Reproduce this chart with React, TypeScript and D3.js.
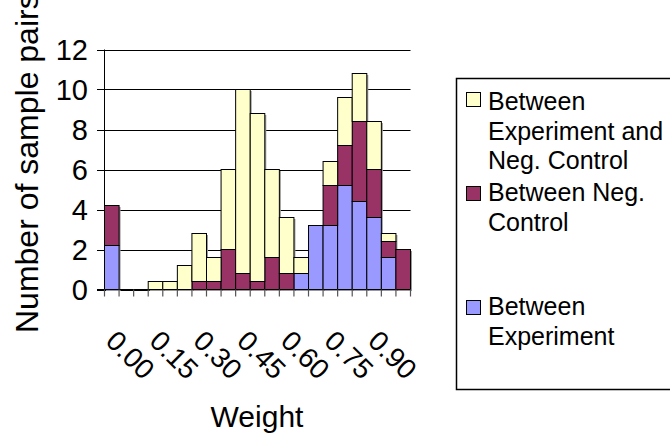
import React from 'react';
import * as d3 from 'd3';

// bins of weight, 0.00 .. 1.00 step 0.05
const bins = ['0.00', '0.05', '0.10', '0.15', '0.20', '0.25', '0.30', '0.35', '0.40', '0.45', '0.50',
  '0.55', '0.60', '0.65', '0.70', '0.75', '0.80', '0.85', '0.90', '0.95', '1.00'];
const betweenExperiment = [2.2, 0, 0, 0, 0, 0, 0, 0, 0, 0, 0, 0, 0, 0.8, 3.2, 3.2, 5.2, 4.4, 3.6, 1.6, 0];
const betweenNegControl = [2.0, 0, 0, 0, 0, 0, 0.4, 0.4, 2.0, 0.8, 0.4, 1.6, 0.8, 0, 0, 2.0, 2.0, 4.0, 2.4, 0.8, 2.0];
const betweenExpAndNeg = [0, 0, 0, 0.4, 0.4, 1.2, 2.4, 1.2, 4.0, 9.2, 8.4, 4.4, 2.8, 0.8, 0, 1.2, 2.4, 2.4, 2.4, 0.4, 0];
const xTickLabels = ['0.00', '0.15', '0.30', '0.45', '0.60', '0.75', '0.90'];
const yTicks = [0, 2, 4, 6, 8, 10, 12];

const seriesKeys = ['exp', 'neg', 'expNeg'];
const colors: Record<string, string> = { exp: '#9999FF', neg: '#993366', expNeg: '#FFFFCC' };

const font = '"Liberation Sans", Arial, sans-serif';

export default function App() {
  const left = 104.5, right = 410.5, top = 49.5, bottom = 289.5;

  const x = d3.scaleBand().domain(bins).range([left, right]).padding(0);
  const y = d3.scaleLinear().domain([0, 12]).range([bottom, top]);

  const rows = bins.map((b, i) => ({
    bin: b, exp: betweenExperiment[i], neg: betweenNegControl[i], expNeg: betweenExpAndNeg[i],
  }));
  const stacked = d3.stack<any>().keys(seriesKeys)(rows);
  const totals = rows.map(r => r.exp + r.neg + r.expNeg);
  const bw = x.bandwidth();

  const legend = [
    { key: 'expNeg', swatchY: 92, lines: ['Between', 'Experiment and', 'Neg. Control'], baseline: 110 },
    { key: 'neg', swatchY: 186, lines: ['Between Neg.', 'Control'], baseline: 201 },
    { key: 'exp', swatchY: 300, lines: ['Between', 'Experiment'], baseline: 315 },
  ];

  return (
    <svg width={670} height={437} style={{ position: 'absolute', left: 0, top: 0, background: 'white' }}
      fontFamily={font}>
      {/* gridlines */}
      {yTicks.map(t => (
        <line key={t} x1={97} x2={right} y1={Math.round(y(t)) + 0.5} y2={Math.round(y(t)) + 0.5}
          stroke="#000" strokeWidth={1} />
      ))}
      {/* shadows */}
      {rows.map((r, i) => totals[i] > 0 && (
        <rect key={'s' + i} x={x(r.bin)! + 1.5} y={y(totals[i]) + 1.5} width={bw} height={bottom - y(totals[i])}
          fill="#999" />
      ))}
      {/* bars */}
      {stacked.map(s => (
        <g key={s.key} fill={colors[s.key]} stroke="#000" strokeWidth={1}>
          {s.map((d, i) => d[1] - d[0] > 0 && (
            <rect key={i} x={x(bins[i])!} y={y(d[1])} width={bw} height={y(d[0]) - y(d[1])} />
          ))}
        </g>
      ))}
      {/* axes */}
      <line x1={left} x2={left} y1={top} y2={bottom} stroke="#000" />
      <line x1={97} x2={right} y1={bottom} y2={bottom} stroke="#000" />
      {bins.concat(['end']).map((b, i) => {
        const xx = left + i * bw;
        return <line key={'t' + i} x1={xx} x2={xx} y1={bottom} y2={bottom + 7} stroke="#555" strokeWidth={1.2} />;
      })}
      {yTicks.map(t => (
        <text key={'yl' + t} x={88} y={y(t)} textAnchor="end" dominantBaseline="central" fontSize={29}>{t}</text>
      ))}
      {xTickLabels.map(l => {
        const cx = x(l)! + bw / 2 + 18.5;
        return (
          <text key={'xl' + l} transform={`translate(${cx},355) rotate(45)`} textAnchor="middle"
            dominantBaseline="central" fontSize={28}>{l}</text>
        );
      })}
      {/* titles */}
      <text transform="translate(38,333) rotate(-90)" fontSize={32}>Number of sample pairs</text>
      <text x={257} y={427} textAnchor="middle" fontSize={30}>Weight</text>
      {/* legend */}
      <rect x={456.5} y={78.5} width={230} height={311} fill="none" stroke="#000" strokeWidth={1.5} />
      {legend.map(item => (
        <g key={item.key}>
          <rect x={466.5} y={item.swatchY + 0.5} width={14} height={14} fill={colors[item.key]} stroke="#000" />
          {item.lines.map((ln, j) => (
            <text key={j} x={488} y={item.baseline + j * 29.7} fontSize={25}>{ln}</text>
          ))}
        </g>
      ))}
    </svg>
  );
}
